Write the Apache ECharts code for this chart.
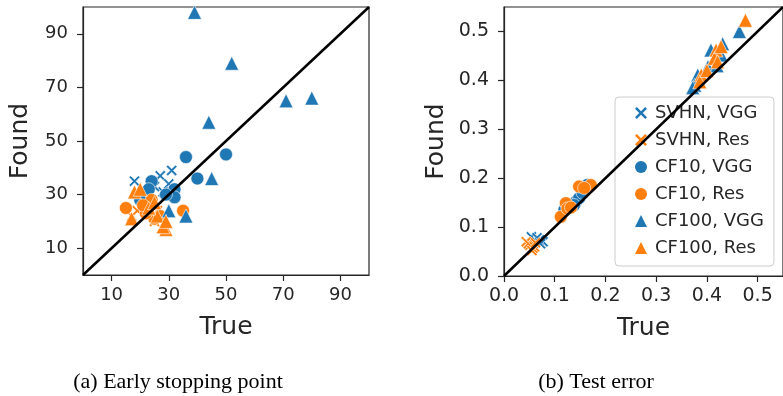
<!DOCTYPE html>
<html>
<head>
<meta charset="utf-8">
<script src="https://cdn.jsdelivr.net/npm/echarts@6/dist/echarts.min.js"></script>
<style>
  html, body { margin: 0; padding: 0; background: #fff; }
  #main { width: 783px; height: 396px; }
</style>
</head>
<body>
<div id="main"></div>
<script>
// 左图: early stopping point (epochs)
var svhnVggA = [[18, 35], [27, 37], [31, 39], [30, 34], [28, 31], [25, 33]];
var svhnResA = [[17, 22], [19, 24], [22, 26], [25, 20], [20, 30], [26, 24]];
var cf10VggA = [[36, 44], [50, 45], [40, 36], [24, 35], [32, 32], [32, 29], [23, 32], [20, 28], [29, 30]];
var cf10ResA = [[15, 25], [35, 24], [24, 28], [25, 21], [22, 23], [27, 22], [21, 26]];
var cf100VggA = [[39, 98], [52, 79], [71, 65], [80, 66], [44, 57], [45, 36], [30, 24], [36, 22]];
var cf100ResA = [[18, 31], [20, 32], [29, 17], [28, 18], [17, 21], [26, 22], [23, 25], [29, 20], [25, 27]];

// 右图: test error
var svhnVggB = [[0.054, 0.080], [0.070, 0.074], [0.077, 0.070], [0.065, 0.078], [0.072, 0.066]];
var svhnResB = [[0.044, 0.070], [0.057, 0.057], [0.051, 0.063], [0.048, 0.066], [0.060, 0.060], [0.062, 0.068], [0.055, 0.052]];
var cf10VggB = [[0.164, 0.186], [0.142, 0.152], [0.148, 0.159], [0.119, 0.135], [0.138, 0.145], [0.155, 0.170]];
var cf10ResB = [[0.148, 0.183], [0.171, 0.186], [0.122, 0.149], [0.112, 0.121], [0.125, 0.138], [0.158, 0.180], [0.132, 0.140]];
var cf100VggB = [[0.464, 0.500], [0.431, 0.475], [0.408, 0.462], [0.402, 0.428], [0.382, 0.411], [0.376, 0.390], [0.372, 0.385], [0.428, 0.452], [0.420, 0.430]];
var cf100ResB = [[0.476, 0.523], [0.418, 0.462], [0.415, 0.445], [0.389, 0.411], [0.386, 0.397], [0.421, 0.438], [0.428, 0.469], [0.400, 0.420]];

var seriesNames = ['SVHN, VGG', 'SVHN, Res', 'CF10, VGG', 'CF10, Res', 'CF100, VGG', 'CF100, Res'];
var ticksA = [10, 30, 50, 70, 90];
var ticksB = [0, 0.1, 0.2, 0.3, 0.4, 0.5];
var diagA = [0, 100];
var diagB = [0, 0.55];

var blue = '#1f77b4';
var orange = '#ff7f0e';
var textColor = '#262626';
var font = 'DejaVu Sans';
// x marker as a filled shape
var crossPath = 'path://M0,1.5L1.5,0L5,3.5L8.5,0L10,1.5L6.5,5L10,8.5L8.5,10L5,6.5L1.5,10L0,8.5L3.5,5Z';

var chart = echarts.init(document.getElementById('main'), null, { renderer: 'canvas' });

function makeAxis(idx, ticks, max, fontSize, nameGap, isY, fmt) {
  return {
    type: 'value',
    gridIndex: idx,
    min: 0,
    max: max,
    name: isY ? 'Found' : 'True',
    nameLocation: 'middle',
    nameGap: nameGap,
    nameTextStyle: { fontFamily: font, fontSize: 25, color: textColor },
    splitLine: { show: false },
    axisLine: { show: true, lineStyle: { color: textColor, width: 1.2 } },
    axisTick: { show: true, length: 6, customValues: ticks, lineStyle: { color: textColor, width: 1.2 } },
    axisLabel: {
      customValues: ticks,
      margin: isY ? 15 : 11,
      fontFamily: font,
      fontSize: fontSize,
      color: textColor,
      formatter: fmt
    }
  };
}

function scatter(name, data, xi, color, symbol, size) {
  return {
    name: name,
    type: 'scatter',
    xAxisIndex: xi,
    yAxisIndex: xi,
    data: data,
    symbol: symbol,
    symbolSize: size,
    itemStyle: { color: color, opacity: 1, borderColor: '#fff', borderWidth: 0.6 }
  };
}

function diag(range, xi) {
  return {
    type: 'line',
    xAxisIndex: xi,
    yAxisIndex: xi,
    data: [[range[0], range[0]], [range[1], range[1]]],
    symbol: 'none',
    silent: true,
    z: 5,
    lineStyle: { color: '#000', width: 2.5 }
  };
}

var fmtInt = function (v) { return String(v); };
var fmtDec = function (v) { return v.toFixed(1); };

var captionStyle = { fontFamily: 'Liberation Serif', fontSize: 22, fontWeight: 'normal', color: '#000' };

var option = {
  backgroundColor: '#ffffff',
  animation: false,
  title: [
    { text: '(a) Early stopping point', left: 173, top: 366, textAlign: 'center', textStyle: captionStyle },
    { text: '(b) Test error', left: 591, top: 366, textAlign: 'center', textStyle: captionStyle }
  ],
  grid: [
    { left: 83, top: 7, width: 286, height: 268, show: true, borderColor: textColor, borderWidth: 1.2, backgroundColor: 'transparent' },
    { left: 504, top: 7, width: 282, height: 269, show: true, borderColor: textColor, borderWidth: 1.2, backgroundColor: 'transparent' }
  ],
  xAxis: [
    makeAxis(0, ticksA, 100, 18, 40, false, fmtInt),
    makeAxis(1, ticksB, 0.55, 19, 40, false, fmtDec)
  ],
  yAxis: [
    makeAxis(0, ticksA, 100, 18, 50, true, fmtInt),
    makeAxis(1, ticksB, 0.55, 19, 55, true, fmtDec)
  ],
  legend: {
    orient: 'vertical',
    left: 615,
    top: 97,
    padding: [7, 10, 9, 20],
    itemGap: 9,
    itemWidth: 12,
    itemHeight: 12,
    itemStyle: { borderWidth: 0 },
    backgroundColor: 'rgba(255,255,255,0.8)',
    borderColor: '#cccccc',
    borderWidth: 1,
    borderRadius: 4,
    textStyle: { fontFamily: font, fontSize: 18, color: textColor, lineHeight: 18, padding: [0, 0, 0, 3] },
    data: seriesNames
  },
  series: [
    scatter(seriesNames[0], svhnVggA, 0, blue, crossPath, 11),
    scatter(seriesNames[1], svhnResA, 0, orange, crossPath, 11),
    scatter(seriesNames[2], cf10VggA, 0, blue, 'circle', 13),
    scatter(seriesNames[3], cf10ResA, 0, orange, 'circle', 13),
    scatter(seriesNames[4], cf100VggA, 0, blue, 'triangle', 14),
    scatter(seriesNames[5], cf100ResA, 0, orange, 'triangle', 14),
    scatter(seriesNames[0], svhnVggB, 1, blue, crossPath, 11),
    scatter(seriesNames[1], svhnResB, 1, orange, crossPath, 11),
    scatter(seriesNames[2], cf10VggB, 1, blue, 'circle', 13),
    scatter(seriesNames[3], cf10ResB, 1, orange, 'circle', 13),
    scatter(seriesNames[4], cf100VggB, 1, blue, 'triangle', 14),
    scatter(seriesNames[5], cf100ResB, 1, orange, 'triangle', 14),
    diag(diagA, 0),
    diag(diagB, 1)
  ]
};

chart.setOption(option);
</script>
</body>
</html>
